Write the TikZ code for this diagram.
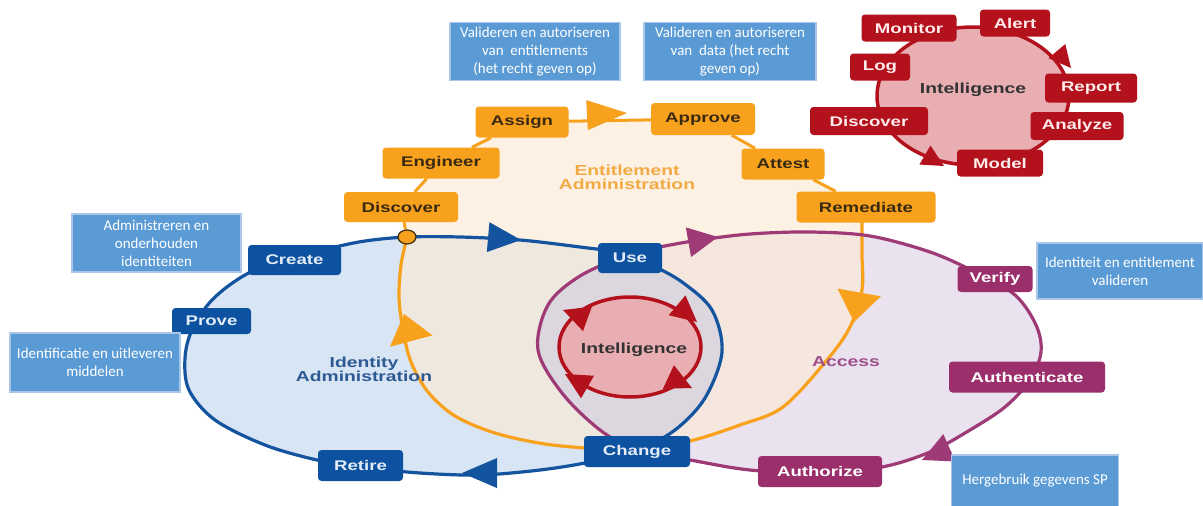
\documentclass[tikz,border=0pt]{standalone}
\usepackage{fontspec}
\setmainfont{Liberation Sans}
\newfontfamily\lblfont[FakeStretch=1.33]{Liberation Sans}
\newfontfamily\annfont{Carlito}
\usetikzlibrary{shapes.geometric}
\pgfdeclarelayer{fills}
\pgfdeclarelayer{links}
\pgfsetlayers{fills,links,main}
\definecolor{idblue}{HTML}{0D52A0}
\definecolor{idline}{HTML}{14539E}
\definecolor{idfill}{HTML}{D8E5F4}
\definecolor{idtext}{HTML}{E4ECF7}
\definecolor{idlabel}{HTML}{2D5A93}
\definecolor{mag}{HTML}{9A2F6C}
\definecolor{magline}{HTML}{9E3A76}
\definecolor{magfill}{HTML}{EAE2EF}
\definecolor{maglabel}{HTML}{A0508A}
\definecolor{org}{HTML}{F7A11D}
\definecolor{orgfill}{HTML}{FCEBD5}
\definecolor{orgtext}{HTML}{3A2A12}
\definecolor{orglabel}{HTML}{F2AA45}
\definecolor{redone}{HTML}{B3111B}
\definecolor{pinkfill}{HTML}{E8AEB2}
\definecolor{lens}{HTML}{DCD7DF}
\definecolor{annblue}{HTML}{5B9BD5}
\definecolor{annline}{HTML}{A9C6E8}
\newcommand\arrowtip[5]{\fill[#1,shift={(#2)},rotate=#3] (0,0) -- (-#4,#5) -- (-#4,-#5) -- cycle;}
\tikzset{
  box/.style={rounded corners=3.5pt, inner sep=0pt, font=\lblfont\bfseries\fontsize{14}{16}\selectfont},
  idbox/.style={box, fill=idblue, text=idtext},
  magbox/.style={box, fill=mag, text=white},
  orgbox/.style={box, fill=org, text=orgtext},
  redbox/.style={box, fill=redone, text=white!92!red},
  ann/.style={fill=annblue, draw=annline, line width=1.2pt, text=white, align=center, inner sep=0pt,
    font=\annfont\fontsize{15}{18}\selectfont},
  lbl/.style={font=\lblfont\bfseries\fontsize{14.5}{16}\selectfont, align=center},
  loopline/.style={line width=3.2pt},
  chain/.style={org, line width=3pt}
}
\begin{document}
\begin{tikzpicture}[x=1pt,y=-1pt]
\useasboundingbox (0,0) rectangle (1203,506);
\begin{pgfonlayer}{fills}
\fill[white] (0,0) rectangle (1203,506);
\fill[idfill] plot[smooth cycle, tension=0.55] coordinates {(630,254) (580,247) (520,240) (460,237) (407,237) (365,241) (330,248) (290,256) (245,275) (212,300) (192,330) (185,358) (189,390) (215,420) (265,445) (317,460) (360,467) (420,473) (480,475) (540,470) (590,462) (637,450) (675,430) (705,398) (722,352) (712,310) (682,282) (650,264)};
\fill[magfill] plot[smooth cycle, tension=0.55] coordinates {(630,254) (665,246) (700,240) (750,234) (810,232) (870,236) (930,252) (975,272) (1015,295) (1036,325) (1041,352) (1030,380) (1005,407) (970,430) (930,452) (882,467) (820,473) (750,470) (690,460) (637,450) (600,430) (562,393) (538,350) (548,305) (580,276)};
\fill[orgfill, fill opacity=0.65] plot[smooth, tension=0.55] coordinates {(407,237) (401,265) (399,298) (403,330) (411,362) (428,392) (455,416) (495,433) (545,444) (600,449) (637,450) (690,441) (740,425) (783,407) (827,360) (850,327) (862,290) (862,255) (862,222)} -- (866,207) -- (783,164) -- (703,119) -- (522,122) -- (441,163) -- (401,207) -- cycle;
\fill[lens] plot[smooth cycle, tension=0.55] coordinates {(630,262) (580,276) (548,305) (538,350) (562,393) (600,430) (637,450) (675,430) (705,398) (722,352) (712,310) (682,282)};
\draw[redone, line width=3.5pt, fill=pinkfill] (630,347) ellipse [x radius=71pt, y radius=50pt];
\draw[org, loopline] plot[smooth, tension=0.55] coordinates {(407,237) (401,265) (399,298) (403,330) (411,362) (428,392) (455,416) (495,433) (545,444) (600,449) (637,450) (690,441) (740,425) (783,407) (827,360) (850,327) (862,290) (862,255) (862,222)};
\draw[idline, loopline] plot[smooth cycle, tension=0.55] coordinates {(630,254) (580,247) (520,240) (460,237) (407,237) (365,241) (330,248) (290,256) (245,275) (212,300) (192,330) (185,358) (189,390) (215,420) (265,445) (317,460) (360,467) (420,473) (480,475) (540,470) (590,462) (637,450) (675,430) (705,398) (722,352) (712,310) (682,282) (650,264)};
\draw[magline, loopline] plot[smooth cycle, tension=0.55] coordinates {(630,254) (665,246) (700,240) (750,234) (810,232) (870,236) (930,252) (975,272) (1015,295) (1036,325) (1041,352) (1030,380) (1005,407) (970,430) (930,452) (882,467) (820,473) (750,470) (690,460) (637,450) (600,430) (562,393) (538,350) (548,305) (580,276)};
\draw[redone, line width=3.5pt, fill=pinkfill] (973,96) ellipse [x radius=96pt, y radius=69pt];
\end{pgfonlayer}
% entitlement chain
\node[orgbox, minimum width=114pt, minimum height=30pt] (odisc) at (401,207) {Discover};
\node[orgbox, minimum width=117pt, minimum height=31pt] (oeng) at (441,163) {Engineer};
\node[orgbox, minimum width=93pt, minimum height=31pt] (oass) at (522,122) {Assign};
\node[orgbox, minimum width=104pt, minimum height=32pt] (oapp) at (703,119) {Approve};
\node[orgbox, minimum width=83pt, minimum height=31pt] (oatt) at (783,164) {Attest};
\node[orgbox, minimum width=139pt, minimum height=31pt] (orem) at (866,207) {Remediate};
\node[ellipse, minimum width=18pt, minimum height=14pt, inner sep=0pt, fill=org, draw=orgtext, line width=1.2pt] (dot) at (407,237) {};
\begin{pgfonlayer}{links}
\draw[chain] (odisc) -- (oeng);
\draw[chain] (oeng) -- (oass);
\draw[chain] (oass) -- (oapp);
\draw[chain] (oapp) -- (oatt);
\draw[chain] (oatt) -- (orem);
\draw[chain] (odisc) -- (dot);
\end{pgfonlayer}
% identity nodes
\node[idbox, minimum width=93pt, minimum height=30pt] (create) at (294.5,260) {Create};
\node[idbox, minimum width=79pt, minimum height=26pt] (prove) at (211.5,321) {Prove};
\node[idbox, minimum width=85pt, minimum height=31pt] (retire) at (360.5,465.5) {Retire};
\node[idbox, minimum width=106pt, minimum height=31pt] (change) at (637,451.5) {Change};
\node[idbox, minimum width=64pt, minimum height=30pt] (use) at (630,258) {Use};
% access nodes
\node[magbox, minimum width=75pt, minimum height=26pt] (verify) at (995,279) {Verify};
\node[magbox, minimum width=156pt, minimum height=31pt] (authn) at (1027,377) {Authenticate};
\node[magbox, minimum width=124pt, minimum height=31pt] (authz) at (820,471.5) {Authorize};
% arrowheads
\arrowtip{idline}{521,240}{-5}{33}{15}
\arrowtip{idline}{462,473}{180}{35}{15}
\arrowtip{magline}{718,237}{10}{30}{15}
\arrowtip{magline}{922,460}{204}{30}{15}
\arrowtip{org}{627,113}{3}{40}{15}
\arrowtip{org}{854,322}{-100}{30}{22}
\arrowtip{org}{404,314}{105}{28}{22}
\arrowtip{redone}{563,310}{160}{26}{13}
\arrowtip{redone}{697,322}{-40}{26}{13}
\arrowtip{redone}{692,388}{-25}{26}{13}
\arrowtip{redone}{565,374}{150}{26}{13}
% labels
\node[lbl, text=orglabel] (entl) at (627,177) {Entitlement\\[-2pt]Administration};
\node[lbl, text=idlabel] (idl) at (364,369) {Identity\\[-2pt]Administration};
\node[lbl, text=maglabel] (accl) at (846,362) {Access};
\node[lbl, text=black!80] (intc) at (634,350) {Intelligence};
% intelligence cluster
\arrowtip{redone}{1071,68}{-50}{22}{11}
\arrowtip{redone}{944,166}{-30}{22}{11}
\node[lbl, text=black!80] (intr) at (973,90) {Intelligence};
\node[redbox, minimum width=95pt, minimum height=27pt] (mon) at (909,28) {Monitor};
\node[redbox, minimum width=70pt, minimum height=27pt] (alert) at (1015,23) {Alert};
\node[redbox, minimum width=60pt, minimum height=27pt] (log) at (880,67) {Log};
\node[redbox, minimum width=92pt, minimum height=29pt] (rep) at (1091,88) {Report};
\node[redbox, minimum width=118pt, minimum height=28pt] (rdisc) at (869,121) {Discover};
\node[redbox, minimum width=93pt, minimum height=28pt] (ana) at (1077,126) {Analyze};
\node[redbox, minimum width=86pt, minimum height=27pt] (model) at (1000,163) {Model};
% annotations
\node[ann, minimum width=170pt, minimum height=58pt] (a1) at (535,51.5) {Valideren en autoriseren\\van\ \ entitlements\\(het recht geven op)};
\node[ann, minimum width=172pt, minimum height=58pt] (a2) at (730,51.5) {Valideren en autoriseren\\van\ \ data (het recht\\geven op)};
\node[ann, minimum width=169pt, minimum height=58pt] (a3) at (156.5,243) {Administreren en\\onderhouden\\identiteiten};
\node[ann, minimum width=170pt, minimum height=59pt] (a4) at (95,362.5) {Identificatie en uitleveren\\middelen};
\node[ann, minimum width=166pt, minimum height=56pt] (a5) at (1120,271) {Identiteit en entitlement\\valideren};
\node[ann, minimum width=167pt, minimum height=52pt] (a6) at (1035,481) {Hergebruik gegevens SP};
\end{tikzpicture}
\end{document}
